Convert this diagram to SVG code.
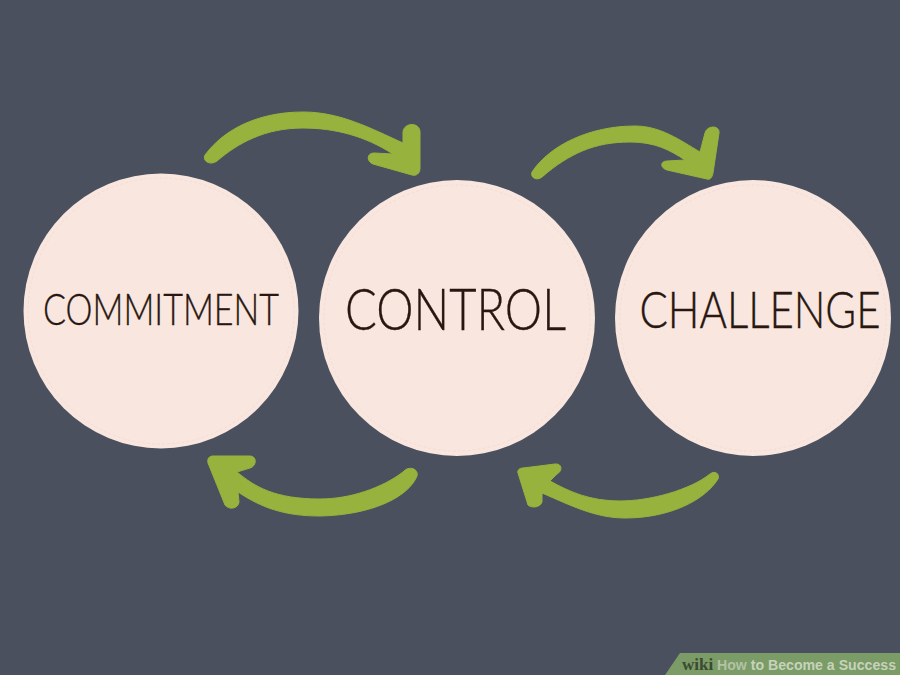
<svg xmlns="http://www.w3.org/2000/svg" width="900" height="675" viewBox="0 0 900 675">
<style>
.bg{fill:#4b505e}
.c{fill:#f9e6df}
.i{fill:none;stroke:#e9d2cb;stroke-width:.7;stroke-dasharray:3 2;opacity:.6}
.a{fill:#97b23c;stroke:#97b23c;stroke-width:1;stroke-linejoin:round;filter:url(#soft)}
.t{font-family:"Lato","Open Sans",sans-serif;font-weight:300;fill:#281610;stroke:#281610;stroke-width:.35;text-anchor:middle}
</style>
<defs><filter id="soft" x="-5%" y="-5%" width="110%" height="110%"><feGaussianBlur stdDeviation="0.6"/></filter></defs>
<rect class="bg" width="900" height="675"/>
<g id="connectors">
<path class="a" d="M205 155C225 128 260 112 303 112C340 112 370 128 403 143L403 132C404 122 420 122 420 132L420 168C420 174 416 176 412 175L373 164C366 161 367 153 374 153L393 154C365 136 335 128 303 128C265 128 238 143 217 161C210 166 202 161 205 155Z"/>
<path class="a" d="M532 172C550 145 590 126 635 126C660 126 680 140 700 152L705 133C707 125 720 125 719 133L713 173C712 178 710 180 707 179L667 170C660 168 660 161 667 161L685 160C670 150 655 142 630 142C595 142 570 153 542 177C537 181 530 178 532 172Z"/>
<path class="a" d="M208 463C207 459 209 456 213 456L250 456C257 456 257 466 250 468L237 472C255 487 275 499 320 499C350 499 382 488 403 472C409 465 419 469 417 476C408 498 370 515 320 516C285 516 262 508 238 492L239 502C238 509 229 510 225 505Z"/>
<path class="a" d="M518 473C517 470 520 468 523 468L555 464C562 463 563 471 557 474L550 481C570 492 590 501 620 501C650 501 690 490 710 474C715 470 720 474 718 479C705 500 670 518 625 518C595 518 570 505 542 493L542 502C540 508 531 508 528 505Z"/>
</g>
<g id="node-commitment"><circle class="c" cx="161" cy="311" r="137.500"/><circle class="i" cx="161" cy="311" r="133"/>
<text class="t" x="161" y="325" font-size="44" textLength="236" lengthAdjust="spacingAndGlyphs">COMMITMENT</text></g>
<g id="node-control"><circle class="c" cx="457" cy="318" r="138"/><circle class="i" cx="457" cy="318" r="133"/>
<text class="t" x="455.500" y="330" font-size="58" textLength="221" lengthAdjust="spacingAndGlyphs">CONTROL</text></g>
<g id="node-challenge"><circle class="c" cx="753" cy="318" r="138"/><circle class="i" cx="753" cy="318" r="133"/>
<text class="t" transform="translate(760 328) scale(1 1.2)" x="0" y="0" font-size="42.500" textLength="241" lengthAdjust="spacingAndGlyphs">CHALLENGE</text></g>
<g id="watermark"><polygon points="665,675 680,653 900,653 900,675" fill="#7b9b67"/>
<text x="682" y="670" font-family="'Liberation Serif',serif" font-weight="700" font-size="17" fill="#3c4a33">wiki</text>
<text x="717" y="670" font-family="'Liberation Sans',sans-serif" font-weight="700" font-size="14.500" fill="#c6d3bb" textLength="179" lengthAdjust="spacingAndGlyphs"><tspan fill="#b3c2a4">How</tspan> to Become a Success</text></g>
</svg>
